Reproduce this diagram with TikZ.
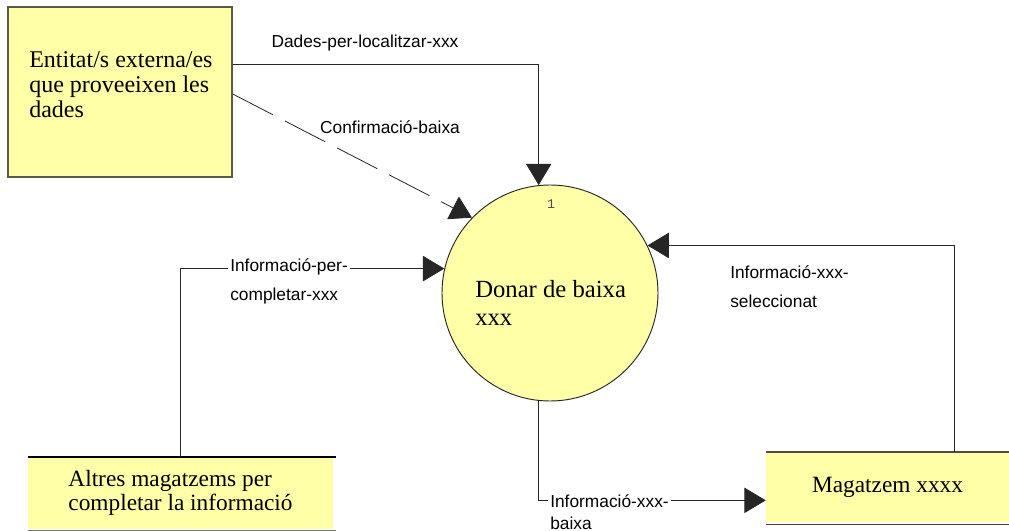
\documentclass[tikz,border=0pt]{standalone}
\usepackage{fontspec}
\setmainfont{Liberation Serif}
\setsansfont{Liberation Sans}
\setmonofont{Liberation Mono}
\usetikzlibrary{arrows.meta}
\definecolor{dfdyellow}{RGB}{255,255,168}
\definecolor{boxedge}{RGB}{90,90,70}
\tikzset{
  entity/.style={draw=boxedge, line width=1.1pt, fill=dfdyellow, inner sep=0pt},
  process/.style={circle, draw=black!85, line width=0.7pt, fill=dfdyellow, inner sep=0pt},
  store/.style={fill=dfdyellow, inner sep=0pt, font=\fontsize{17.5}{18.5}\selectfont, align=left},
  bigtext/.style={inner sep=0pt, align=left, anchor=north west},
  flow/.style={draw=black!85, line width=0.6pt, -{Triangle[length=16pt,width=19pt]}},
  flowlabel/.style={font=\sffamily\fontsize{13}{22}\selectfont, inner sep=1.5pt, align=left},
}
\begin{document}
\begin{tikzpicture}[x=0.75pt,y=-0.75pt]
\useasboundingbox (0,0) rectangle (1009,531);

% external entity
\node[entity, minimum width=168pt, minimum height=127.5pt] (ent) at (120,92) {};
\node[bigtext, font=\fontsize{18}{19}\selectfont] (enttext) at (29,51)
  {Entitat/s externa/es\\que proveeixen les\\dades};

% process
\node[process, minimum size=162pt] (p) at (550,293) {};
\node[font=\ttfamily\fontsize{10}{10}\selectfont, text=black!70, inner sep=0pt] (pnum) at (551,204) {1};
\node[bigtext, font=\fontsize{18.5}{21}\selectfont] (ptext) at (475,280) {Donar de baixa\\xxx};

% data stores
\node[store, minimum width=228.75pt, minimum height=54pt] (alt) at (180.5,493)
  {Altres magatzems per\\completar la informació};
\draw[black, line width=1.2pt] (alt.north west) -- ([xshift=2pt]alt.north east);
\draw[black!55, line width=1.6pt] ([yshift=-1.2pt]alt.south west) -- ([xshift=2pt,yshift=-1.2pt]alt.south east);

\node[store, minimum width=182.25pt, minimum height=52.5pt] (mag) at (887.5,487) {Magatzem xxxx};
\draw[black!70, line width=1.2pt] (mag.north west) -- (mag.north east);
\draw[black!75, line width=0.7pt] ([yshift=-2pt]mag.south west) -- ([yshift=-2pt]mag.south east);

% data flows
\draw[flow] ([yshift=21pt]ent.east) -| (p.96);
\draw[flow, dash pattern=on 34pt off 10pt] ([yshift=-1.5pt]ent.east) -- (p.136);
\draw[flow] (alt.north) |- (p.167);
\draw[flow] ([xshift=49.9pt]mag.north) |- (p.26);
\draw[flow] (p.264) |- ([yshift=-10pt]mag.west);

% flow labels
\node[flowlabel] (l1) at (365,43) {Dades-per-localitzar-xxx};
\node[flowlabel] (l2) at (390,127) {Confirmació-baixa};
\node[flowlabel, fill=white, anchor=north west] (l3) at (228,256) {Informació-per-\\completar-xxx};
\node[flowlabel, anchor=north west] (l4) at (728,263) {Informació-xxx-\\seleccionat};
\node[flowlabel, fill=white, anchor=north west, font=\sffamily\fontsize{13}{16.5}\selectfont] (l5) at (548,492) {Informació-xxx-\\baixa};
\end{tikzpicture}
\end{document}
